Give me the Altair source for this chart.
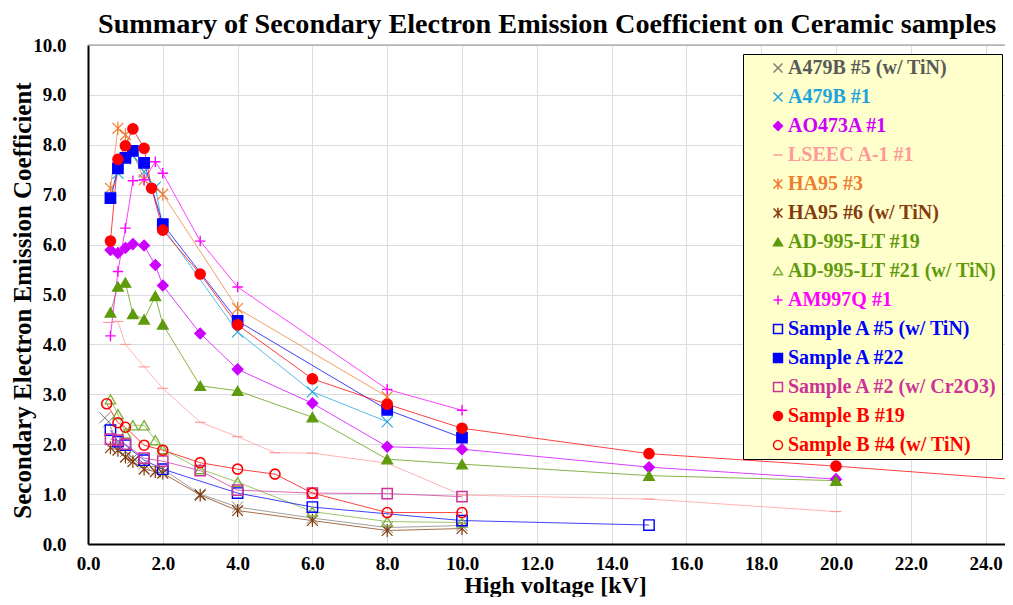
import altair as alt
import pandas as pd

FONT = "Liberation Serif"

series_names = [
    "A479B #5 (w/ TiN)", "A479B #1", "AO473A #1", "LSEEC A-1 #1", "HA95 #3",
    "HA95 #6 (w/ TiN)", "AD-995-LT #19", "AD-995-LT #21 (w/ TiN)", "AM997Q #1",
    "Sample A #5 (w/ TiN)", "Sample A #22", "Sample A #2 (w/ Cr2O3)",
    "Sample B #19", "Sample B #4 (w/ TiN)",
]
series_colors = ["#7F7F7F", "#1FA3DC", "#CC00FF", "#FF9999", "#ED7D31", "#843C0C",
                 "#5E9A0C", "#7FAF3A", "#FF00FF", "#0000FF", "#0000FF", "#CC3399",
                 "#FF0000", "#FF0000"]
label_colors = ["#595959", "#1FA3DC", "#CC00FF", "#FF9999", "#ED7D31", "#843C0C",
                "#5E9A0C", "#5E9A0C", "#FF00FF", "#0000FF", "#0000FF", "#CC3399",
                "#FF0000", "#FF0000"]

X_PATH = "M-1,-1L1,1M-1,1L1,-1"
STAR_PATH = "M-1,-1L1,1M-1,1L1,-1M0,-1.2L0,1.2"
PLUS_PATH = "M-1,0L1,0M0,-1L0,1"
DASH_PATH = "M-1,0L1,0"
marker_shapes = [X_PATH, X_PATH, "diamond", DASH_PATH, STAR_PATH, STAR_PATH,
                 "triangle-up", "triangle-up", PLUS_PATH, "square", "square", "square",
                 "circle", "circle"]
marker_fills = ["transparent", "transparent", "#CC00FF", "transparent", "transparent",
                "transparent", "#5E9A0C", "transparent", "transparent", "transparent",
                "#0000FF", "transparent", "#FF0000", "transparent"]
marker_sizes = [81, 90, 120, 64, 115, 115, 130, 120, 100, 95, 100, 95, 125, 100]
marker_widths = [2, 2.2, 1, 3, 2.6, 2.6, 1, 1.5, 2, 1.6, 1, 1.6, 1, 1.6]

# ---- data ----
x_a479b5 = [0.45, 0.55, 0.8, 1.0, 1.2, 1.5, 2.0, 3.0, 4.0, 6.0, 8.0, 10.0]
y_a479b5 = [2.53, 2.45, 2.0, 1.85, 1.72, 1.6, 1.5, 1.0, 0.74, 0.52, 0.33, 0.37]

x_a479b1 = [0.6, 0.8, 1.0, 1.2, 1.5, 1.8, 2.0, 4.0, 6.0, 8.0]
y_a479b1 = [6.95, 7.43, 7.72, 7.78, 7.46, 7.15, 6.35, 4.25, 3.05, 2.45]

x_ao473a = [0.6, 0.8, 1.0, 1.2, 1.5, 1.8, 2.0, 3.0, 4.0, 6.0, 8.0, 10.0, 15.0, 20.0]
y_ao473a = [5.89, 5.83, 5.93, 6.01, 5.98, 5.59, 5.18, 4.22, 3.5, 2.82, 1.95, 1.9, 1.54, 1.3]

x_lseec = [0.55, 0.8, 1.0, 1.5, 2.0, 3.0, 4.0, 5.0, 6.0, 8.0, 10.0, 15.0, 20.0]
y_lseec = [4.44, 4.46, 4.0, 3.55, 3.12, 2.44, 2.15, 1.83, 1.82, 1.62, 0.98, 0.9, 0.65]

x_ha95_3 = [0.6, 0.8, 1.0, 1.5, 2.0, 4.0, 8.0]
y_ha95_3 = [7.13, 8.33, 8.2, 7.3, 7.01, 4.72, 2.95]

x_ha95_6 = [0.6, 0.8, 1.0, 1.2, 1.5, 1.8, 2.0, 3.0, 4.0, 6.0, 8.0, 10.0]
y_ha95_6 = [1.93, 1.88, 1.74, 1.65, 1.5, 1.45, 1.42, 0.98, 0.67, 0.47, 0.27, 0.31]

x_ad19 = [0.6, 0.8, 1.0, 1.2, 1.5, 1.8, 2.0, 3.0, 4.0, 6.0, 8.0, 10.0, 15.0, 20.0]
y_ad19 = [4.64, 5.16, 5.24, 4.61, 4.5, 4.97, 4.4, 3.17, 3.07, 2.54, 1.7, 1.6, 1.37, 1.27]

x_ad21 = [0.6, 0.8, 1.0, 1.2, 1.5, 1.8, 2.0, 3.0, 4.0, 6.0, 8.0, 10.0]
y_ad21 = [2.9, 2.6, 2.22, 2.38, 2.38, 2.08, 1.9, 1.5, 1.24, 0.65, 0.45, 0.43]

x_am997q = [0.6, 0.8, 1.0, 1.2, 1.5, 1.8, 2.0, 3.0, 4.0, 8.0, 10.0]
y_am997q = [4.17, 5.46, 6.33, 7.28, 7.3, 7.66, 7.43, 6.07, 5.15, 3.1, 2.68]

x_sa5 = [0.6, 0.8, 1.0, 1.5, 2.0, 4.0, 6.0, 10.0, 15.0]
y_sa5 = [2.28, 2.05, 1.98, 1.68, 1.5, 1.02, 0.74, 0.47, 0.38]

x_sa22 = [0.6, 0.8, 1.0, 1.2, 1.5, 2.0, 4.0, 8.0, 10.0]
y_sa22 = [6.93, 7.53, 7.74, 7.88, 7.64, 6.41, 4.47, 2.69, 2.13]

x_sa2 = [0.6, 0.8, 1.0, 1.5, 2.0, 3.0, 4.0, 6.0, 8.0, 10.0]
y_sa2 = [2.1, 2.08, 2.0, 1.72, 1.66, 1.47, 1.08, 1.02, 1.01, 0.95]

x_sb19 = [0.6, 0.8, 1.0, 1.2, 1.5, 1.7, 2.0, 3.0, 4.0, 6.0, 8.0, 10.0, 15.0, 20.0, 25.0]
y_sb19 = [6.07, 7.71, 7.98, 8.32, 7.93, 7.13, 6.29, 5.41, 4.39, 3.31, 2.8, 2.32, 1.81, 1.56, 1.28]

x_sb4 = [0.5, 0.8, 1.0, 1.5, 2.0, 3.0, 4.0, 5.0, 6.0, 8.0, 10.0]
y_sb4 = [2.81, 2.43, 2.34, 1.98, 1.88, 1.63, 1.5, 1.4, 1.02, 0.63, 0.63]

series_data = [
    (x_a479b5, y_a479b5), (x_a479b1, y_a479b1), (x_ao473a, y_ao473a),
    (x_lseec, y_lseec), (x_ha95_3, y_ha95_3), (x_ha95_6, y_ha95_6),
    (x_ad19, y_ad19), (x_ad21, y_ad21), (x_am997q, y_am997q),
    (x_sa5, y_sa5), (x_sa22, y_sa22), (x_sa2, y_sa2),
    (x_sb19, y_sb19), (x_sb4, y_sb4),
]

rows = []
for name, (xs, ys) in zip(series_names, series_data):
    for xv, yv in zip(xs, ys):
        rows.append({"series": name, "kv": xv, "see": yv})
df = pd.DataFrame(rows)

PX_PER_KV = 37.4
PLOT_W = 917
PLOT_H = 499
xscale = alt.Scale(domain=[0, PLOT_W / PX_PER_KV], nice=False, zero=False)
yscale = alt.Scale(domain=[0, 10], nice=False)

x_axis = alt.Axis(
    values=list(range(0, 25)),
    labelExpr="datum.value % 2 == 0 ? format(datum.value, '.1f') : ''",
    labelOverlap=False, labelFlush=False,
    grid=True, gridColor="#DCDCDC", gridWidth=1,
    ticks=False, domainColor="black", domainWidth=2,
    labelFont=FONT, labelFontSize=19, labelFontWeight="bold", labelColor="black",
    labelPadding=10,
    title="High voltage [kV]", titleFont=FONT, titleFontSize=24, titleFontWeight="bold",
    titleColor="black", titleX=467, titleY=41, titleBaseline="middle", titleAlign="center",
)
y_axis = alt.Axis(
    values=list(range(0, 11)), format=".1f",
    grid=True, gridColor="#DCDCDC", gridWidth=1,
    ticks=False, domainColor="black", domainWidth=2,
    labelFont=FONT, labelFontSize=19, labelFontWeight="bold", labelColor="black",
    labelPadding=22,
    title="Secondary Electron Emission Coefficient", titleFont=FONT, titleFontSize=25,
    titleFontWeight="bold", titleColor="black", titleX=-66, titleY=255,
    titleAngle=-90, titleBaseline="middle", titleAlign="center",
)

color_expr = ""
for name, c in zip(series_names, label_colors):
    color_expr += f"datum.value === '{name}' ? '{c}' : "
color_expr += "'black'"

legend = alt.Legend(
    title=None, orient="none", legendX=655, legendY=9,
    fillColor="#FFFFCC", strokeColor="black", padding=4,
    labelFont=FONT, labelFontSize=20, labelFontWeight="bold",
    labelColor=alt.ExprRef(expr=color_expr), labelLimit=600,
    labelExpr="datum.label + '          '",
    rowPadding=9, symbolSize=80, symbolStrokeWidth=1.5,
    symbolOffset=21, labelOffset=0,
)

# channels without legend use a reversed domain so they are not merged with the legend
rev_names = series_names[::-1]

base = alt.Chart(df)
lines = base.mark_line(strokeWidth=1, opacity=0.75, clip=True).encode(
    x=alt.X("kv:Q", scale=xscale, axis=x_axis),
    y=alt.Y("see:Q", scale=yscale, axis=y_axis),
    color=alt.Color("series:N", scale=alt.Scale(domain=rev_names, range=series_colors[::-1]), legend=None),
    detail="series:N",
)
points = base.mark_point(opacity=1, clip=True).encode(
    x="kv:Q",
    y="see:Q",
    shape=alt.Shape("series:N", scale=alt.Scale(domain=series_names, range=marker_shapes), legend=legend),
    stroke=alt.Stroke("series:N", scale=alt.Scale(domain=series_names, range=series_colors), legend=legend),
    fill=alt.Fill("series:N", scale=alt.Scale(domain=series_names, range=marker_fills), legend=legend),
    size=alt.Size("series:O", scale=alt.Scale(domain=rev_names, range=marker_sizes[::-1]), legend=None),
    strokeWidth=alt.StrokeWidth("series:O", scale=alt.Scale(domain=rev_names, range=marker_widths[::-1]), legend=None),
)
top_rule = alt.Chart(pd.DataFrame({"top": [10.0]})).mark_rule(color="#8C8C8C", strokeWidth=1).encode(
    y=alt.Y("top:Q")
)

chart = alt.layer(lines, top_rule, points).properties(
    width=PLOT_W, height=PLOT_H,
    autosize=alt.AutoSizeParams(type="none"),
    padding={"left": 80, "top": 37, "right": 0, "bottom": 53},
    title=alt.Title(
        "Summary of Secondary Electron Emission Coefficient on Ceramic samples",
        font=FONT, fontSize=28.2, fontWeight="bold", color="black",
        anchor="start", frame="group", dx=10, dy=13, offset=10,
    ),
).configure_view(stroke=None).configure(background="white")

chart.save("out.html", embed_options={"renderer": "svg", "actions": False})
